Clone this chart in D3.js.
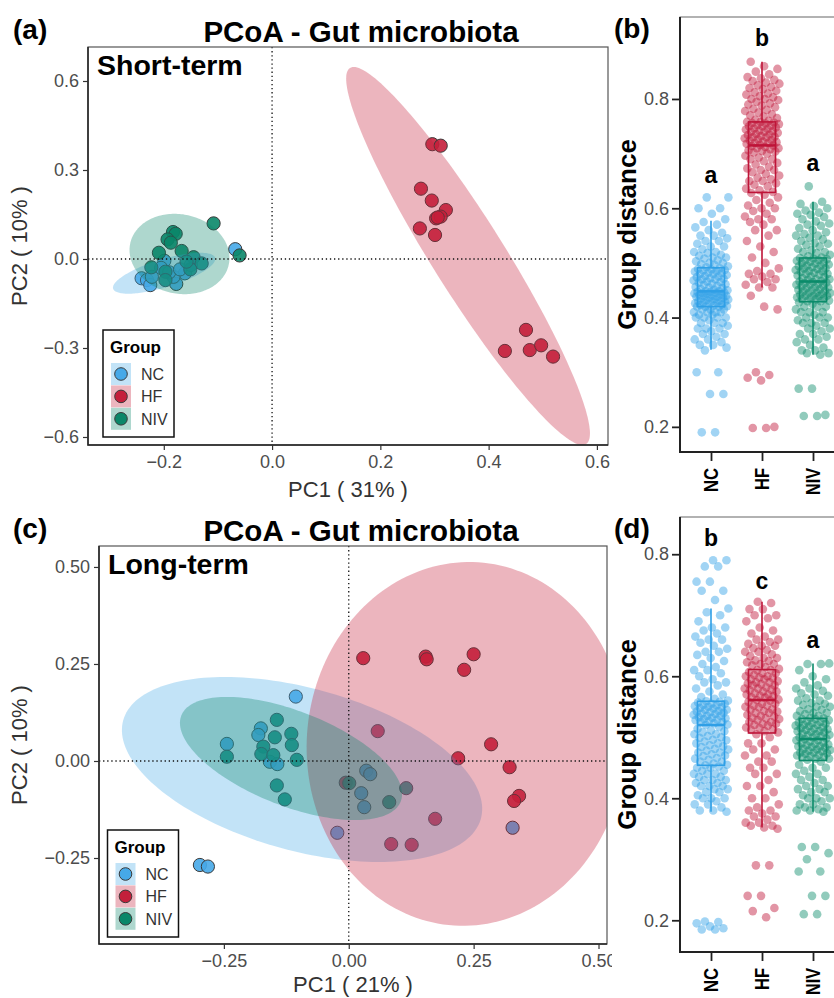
<!DOCTYPE html>
<html><head><meta charset="utf-8">
<script src="https://cdn.jsdelivr.net/npm/d3@7"></script>
<style>
body{margin:0;background:#fff}
text{font-family:"Liberation Sans",Arial,Helvetica,sans-serif}
</style></head>
<body><svg id="c" width="834" height="998"></svg>
<script>
// ---------------- DATA ----------------
const groups = ["NC","HF","NIV"];
const groupColors = ["#46A9E8","#C41F3B","#0A8769"];
const boxColors = ["#2F9FE6","#BE1438","#0B8B6A"];
const catLabelLengths = [24,22,27];

// PCoA short-term (panel a): [PC1, PC2]
const shortNC = [[-0.068,0.033],[-0.199,-0.006],[-0.241,-0.065],[-0.231,-0.071],[-0.225,-0.088],[-0.177,-0.084],[-0.161,-0.048],[-0.222,-0.060],[-0.182,-0.060],[-0.205,-0.030],[-0.190,-0.045],[-0.150,-0.020],[-0.170,-0.035]];
const shortHF = [[0.296,0.387],[0.3115,0.382],[0.275,0.237],[0.295,0.197],[0.321,0.165],[0.303,0.137],[0.3115,0.143],[0.306,0.140],[0.273,0.103],[0.301,0.081],[0.469,-0.239],[0.430,-0.310],[0.476,-0.307],[0.497,-0.291],[0.519,-0.329]];
const shortNIV = [[-0.108,0.120],[-0.183,0.091],[-0.178,0.085],[-0.193,0.066],[-0.187,0.055],[-0.209,0.021],[-0.167,0.027],[-0.145,0.006],[-0.130,-0.015],[-0.151,-0.035],[-0.223,-0.028],[-0.197,-0.043],[-0.197,-0.071],[-0.158,-0.009],[-0.060,0.012]];
// ellipses: [cx, cy, axisA_x, axisA_y, axisB_x, axisB_y] in data units
const shortEllNC = [-0.1994,-0.048,0.0942,0.0522,0.0076,-0.0452];
const shortEllHF = [0.362,0.010,0.218,-0.634,0.0563,0.0644];
const shortEllNIV = [-0.171,0.0169,0.0923,-0.0135,0,0.1348];

// PCoA long-term (panel c)
const longNC = [[-0.106,0.166],[-0.176,0.084],[-0.181,0.067],[-0.244,0.044],[-0.158,-0.002],[-0.143,-0.008],[0.035,-0.025],[0.043,-0.034],[0.025,-0.083],[0.031,-0.119],[-0.023,-0.185],[0.328,-0.172],[-0.298,-0.268],[-0.282,-0.272]];
const longHF = [[0.029,0.265],[0.154,0.269],[0.156,0.262],[0.250,0.275],[0.231,0.235],[0.058,0.077],[0.285,0.043],[0.219,0.007],[0.322,-0.016],[0.341,-0.090],[0.331,-0.103],[0.173,-0.149],[0.085,-0.214],[0.126,-0.216],[-0.006,-0.056]];
const longNIV = [[-0.144,0.106],[-0.148,0.061],[-0.115,0.070],[-0.114,0.041],[-0.244,0.011],[-0.171,0.037],[-0.175,0.018],[-0.151,0.015],[-0.104,0.003],[-0.144,-0.063],[-0.128,-0.099],[0.001,-0.057],[0.081,-0.106],[0.115,-0.070]];
const longEllNC = [-0.0935,-0.0219,0.358,-0.1268,-0.0433,-0.2018];
const longEllHF = [0.235,0.044,0.024,0.468,0.3185,-0.026];
const longEllNIV = [-0.1156,0.0064,0.2196,-0.1106,-0.0347,-0.1137];

// Group distance (panel b, short-term)
const distShortNC = [0.34,0.345,0.35,0.35,0.355,0.36,0.36,0.365,0.37,0.37,0.375,0.38,0.38,0.38,0.385,0.39,0.39,0.39,0.395,0.40,0.40,0.40,0.40,0.405,0.405,0.41,0.41,0.41,0.41,0.415,0.415,0.415,0.42,0.42,0.42,
0.421,0.422,0.423,0.424,0.425,0.426,0.427,0.428,0.429,0.43,0.43,0.431,0.432,0.433,0.434,0.435,0.436,0.437,0.438,0.438,0.439,0.44,0.44,0.441,0.442,0.443,0.444,0.445,0.445,0.446,0.447,0.447,0.448,0.448,
0.45,0.451,0.452,0.454,0.455,0.456,0.458,0.46,0.461,0.462,0.464,0.465,0.466,0.468,0.47,0.47,0.471,0.472,0.474,0.475,0.476,0.478,0.48,0.48,0.481,0.482,0.484,0.485,0.486,0.487,0.488,0.489,0.49,
0.492,0.494,0.496,0.498,0.50,0.50,0.503,0.505,0.508,0.51,0.51,0.513,0.515,0.518,0.52,0.52,0.525,0.53,0.53,0.535,0.54,0.54,0.545,0.55,0.55,0.555,0.56,0.565,0.57,0.575,0.58,0.59,0.60,0.60,0.62,0.62,
0.30,0.30,0.26,0.26,0.19,0.19];
const distShortHF = [0.76,0.762,0.765,0.768,0.77,0.772,0.775,0.778,0.78,0.782,0.785,0.788,0.79,0.792,0.795,0.798,0.80,0.80,0.803,0.805,0.808,0.81,0.812,0.815,0.818,0.82,0.822,0.825,0.828,0.83,0.833,0.835,0.838,0.84,0.845,0.85,0.855,0.86,0.868,
0.716,0.718,0.72,0.721,0.722,0.724,0.725,0.726,0.728,0.73,0.731,0.732,0.734,0.735,0.736,0.738,0.74,0.741,0.742,0.744,0.745,0.746,0.748,0.75,0.751,0.752,0.754,0.755,0.756,0.757,0.758,0.758,0.72,0.73,0.74,0.75,
0.63,0.633,0.636,0.64,0.643,0.646,0.65,0.653,0.656,0.66,0.663,0.666,0.67,0.673,0.676,0.68,0.683,0.686,0.69,0.693,0.696,0.70,0.702,0.704,0.706,0.708,0.71,0.712,0.714,0.715,0.65,0.67,0.69,0.705,0.71,
0.455,0.46,0.465,0.47,0.475,0.48,0.485,0.49,0.50,0.51,0.52,0.53,0.54,0.55,0.56,0.57,0.575,0.58,0.585,0.59,0.595,0.60,0.605,0.61,0.615,0.62,0.625,0.628,0.455,0.47,0.48,0.56,0.58,0.60,
0.44,0.42,0.415,0.30,0.295,0.29,0.285,0.20,0.198,0.198];
const distShortNIV = [0.51,0.512,0.515,0.518,0.52,0.523,0.526,0.53,0.533,0.536,0.54,0.543,0.546,0.55,0.553,0.556,0.56,0.564,0.568,0.572,0.576,0.58,0.584,0.588,0.592,0.596,0.60,0.604,0.608,0.612,0.52,0.535,0.55,0.57,0.59,
0.467,0.469,0.47,0.472,0.474,0.475,0.477,0.479,0.48,0.482,0.484,0.485,0.487,0.489,0.49,0.492,0.494,0.495,0.497,0.499,0.50,0.502,0.504,0.505,0.507,0.508,0.509,0.47,0.48,0.49,0.50,0.485,0.495,0.505,
0.43,0.431,0.433,0.434,0.436,0.437,0.439,0.44,0.442,0.443,0.445,0.446,0.448,0.449,0.451,0.452,0.454,0.455,0.457,0.458,0.46,0.461,0.463,0.464,0.466,0.44,0.45,0.46,0.435,0.445,0.455,0.465,0.43,0.44,
0.332,0.335,0.34,0.34,0.345,0.35,0.355,0.36,0.365,0.37,0.37,0.375,0.38,0.385,0.39,0.39,0.395,0.40,0.40,0.405,0.41,0.41,0.415,0.42,0.42,0.425,0.428,0.36,0.38,0.40,0.41,0.42,0.335,0.39,
0.64,0.27,0.27,0.222,0.22,0.22];
// box stats: [lower whisker, Q1, median, Q3, upper whisker]
const boxShortNC = [0.341,0.42,0.448,0.491,0.577];
const boxShortHF = [0.455,0.629,0.715,0.758,0.868];
const boxShortNIV = [0.332,0.429,0.466,0.509,0.612];
const lettersShort = ["a","b","a"];
const letterPosShort = [0.661,0.911,0.683];

// Group distance (panel d, long-term)
const distLongNC = [0.56,0.563,0.566,0.57,0.575,0.58,0.585,0.59,0.595,0.60,0.605,0.61,0.615,0.62,0.625,0.63,0.635,0.64,0.645,0.65,0.655,0.66,0.665,0.67,0.675,0.68,0.69,0.70,0.705,0.711,0.59,0.61,0.64,0.66,0.68,
0.521,0.523,0.525,0.527,0.529,0.531,0.533,0.535,0.537,0.539,0.541,0.543,0.545,0.547,0.549,0.551,0.553,0.555,0.557,0.559,0.525,0.53,0.535,0.54,0.545,0.55,0.555,0.528,0.538,0.548,0.558,0.532,0.542,0.552,
0.455,0.457,0.46,0.463,0.466,0.469,0.472,0.475,0.478,0.481,0.484,0.487,0.49,0.493,0.496,0.499,0.502,0.505,0.508,0.511,0.514,0.517,0.52,0.46,0.47,0.48,0.49,0.50,0.51,0.465,0.475,0.485,0.495,0.505,
0.378,0.38,0.385,0.39,0.395,0.40,0.40,0.405,0.41,0.415,0.42,0.42,0.425,0.43,0.43,0.435,0.44,0.44,0.445,0.45,0.452,0.454,0.39,0.41,0.43,0.445,0.38,0.40,0.42,0.44,0.45,0.435,0.415,0.425,
0.79,0.79,0.78,0.78,0.755,0.755,0.74,0.74,0.725,0.198,0.197,0.195,0.19,0.187,0.185,0.185];
const distLongHF = [0.612,0.615,0.618,0.62,0.623,0.626,0.63,0.633,0.636,0.64,0.643,0.646,0.65,0.653,0.656,0.66,0.665,0.67,0.675,0.68,0.69,0.695,0.70,0.71,0.72,0.722,0.62,0.63,0.64,0.65,0.66,0.70,0.71,0.625,
0.562,0.565,0.567,0.57,0.572,0.575,0.577,0.58,0.582,0.585,0.587,0.59,0.592,0.595,0.597,0.60,0.602,0.605,0.607,0.61,0.57,0.58,0.59,0.60,0.575,0.585,0.595,0.605,0.565,0.61,0.568,0.578,0.588,0.598,
0.508,0.51,0.513,0.516,0.519,0.522,0.525,0.528,0.531,0.534,0.537,0.54,0.543,0.546,0.549,0.552,0.555,0.558,0.561,0.515,0.525,0.535,0.545,0.555,0.52,0.53,0.54,0.55,0.56,0.512,0.532,0.552,0.542,0.522,
0.352,0.355,0.36,0.36,0.365,0.37,0.375,0.38,0.385,0.39,0.40,0.41,0.42,0.43,0.44,0.45,0.46,0.47,0.48,0.49,0.50,0.505,0.37,0.38,0.42,0.44,0.46,0.48,0.35,0.40,0.45,0.49,0.355,0.47,
0.29,0.29,0.24,0.24,0.22,0.215,0.205];
const distLongNIV = [0.532,0.535,0.538,0.54,0.543,0.546,0.55,0.553,0.556,0.56,0.564,0.568,0.572,0.576,0.58,0.585,0.59,0.595,0.60,0.61,0.62,0.621,0.54,0.55,0.56,0.57,0.58,0.62,0.535,0.545,0.555,
0.498,0.5,0.502,0.504,0.506,0.508,0.51,0.512,0.514,0.516,0.518,0.52,0.522,0.524,0.526,0.528,0.53,0.531,0.50,0.51,0.52,0.53,0.505,0.515,0.525,0.503,0.513,0.523,0.509,0.519,
0.463,0.465,0.467,0.469,0.471,0.473,0.475,0.477,0.479,0.481,0.483,0.485,0.487,0.489,0.491,0.493,0.495,0.497,0.47,0.48,0.49,0.465,0.475,0.485,0.495,0.468,0.478,0.488,0.474,0.484,
0.378,0.38,0.382,0.385,0.39,0.395,0.40,0.40,0.405,0.41,0.415,0.42,0.425,0.43,0.435,0.44,0.445,0.45,0.455,0.46,0.39,0.41,0.43,0.45,0.38,0.40,0.42,0.44,0.385,0.415,
0.32,0.32,0.31,0.30,0.28,0.28,0.24,0.24,0.21,0.21];
const boxLongNC = [0.378,0.454,0.52,0.559,0.711];
const boxLongHF = [0.352,0.507,0.561,0.611,0.722];
const boxLongNIV = [0.378,0.462,0.497,0.531,0.621];
const lettersLong = ["b","c","a"];
const letterPosLong = [0.826,0.757,0.659];

// ---------------- DRAWING ----------------
const svg = d3.select("#c");
const FONT = '"Liberation Sans",Arial,Helvetica,sans-serif';

function drawPCoA(o){
  const g = svg.append("g");
  const x = d3.scaleLinear().domain(o.xd).range([o.L,o.R]);
  const y = d3.scaleLinear().domain(o.yd).range([o.B,o.T]);
  const cid = "clip"+o.id;
  svg.append("clipPath").attr("id",cid).append("rect")
    .attr("x",o.L).attr("y",o.T).attr("width",o.R-o.L).attr("height",o.B-o.T);
  const pg = g.append("g").attr("clip-path",`url(#${cid})`);
  // points
  o.pts.forEach((pts,k)=>{
    pg.selectAll(null).data(pts).join("circle")
      .attr("cx",d=>x(d[0])).attr("cy",d=>y(d[1])).attr("r",6.6)
      .attr("fill",groupColors[k]).attr("stroke","#3a3a3a").attr("stroke-width",1)
      .attr("fill-opacity",0.9);
  });
  // ellipses
  o.ell.forEach((e,k)=>{
    const pts = d3.range(0,360,2).map(t=>{
      const a=t*Math.PI/180, c=Math.cos(a), s=Math.sin(a);
      return [x(e[0]+c*e[2]+s*e[4]), y(e[1]+c*e[3]+s*e[5])];
    });
    pg.append("path").attr("d",d3.line()(pts)+"Z")
      .attr("fill",groupColors[k]).attr("fill-opacity",0.33).attr("stroke","none");
  });
  // dotted zero lines
  g.append("line").attr("x1",x(0)).attr("x2",x(0)).attr("y1",o.T).attr("y2",o.B)
    .attr("stroke","#111").attr("stroke-width",1.3).attr("stroke-dasharray","1.3,2.8");
  g.append("line").attr("x1",o.L).attr("x2",o.R).attr("y1",y(0)).attr("y2",y(0))
    .attr("stroke","#111").attr("stroke-width",1.3).attr("stroke-dasharray","1.3,2.8");
  // border
  g.append("rect").attr("x",o.L).attr("y",o.T).attr("width",o.R-o.L).attr("height",o.B-o.T)
    .attr("fill","none").attr("stroke","#555").attr("stroke-width",1.2);
  g.append("path").attr("d",`M${o.L},${o.T}V${o.B}H${o.R}`).attr("fill","none").attr("stroke","#222").attr("stroke-width",1.5);
  // axes
  const xa = g.append("g").attr("transform",`translate(0,${o.B})`)
    .call(d3.axisBottom(x).tickValues(o.xt).tickFormat(d3.format(o.fmtX)).tickSize(5).tickPadding(5));
  const ya = g.append("g").attr("transform",`translate(${o.L},0)`)
    .call(d3.axisLeft(y).tickValues(o.yt).tickFormat(d3.format(o.fmtY)).tickSize(5).tickPadding(4));
  [xa,ya].forEach(a=>{
    a.select(".domain").remove();
    a.selectAll(".tick line").attr("stroke","#333").attr("stroke-width",1.2);
    a.selectAll(".tick text").attr("fill","#4d4d4d").style("font-size","18px").style("font-family",FONT);
  });
  // titles
  g.append("text").attr("x",(o.L+o.R)/2).attr("y",o.B+o.xlabOff).attr("text-anchor","middle")
    .style("font-size","22px").attr("fill","#333").text(o.xlab);
  g.append("text").attr("transform",`translate(27,${(o.T+o.B)/2}) rotate(-90)`).attr("text-anchor","middle")
    .style("font-size","22px").attr("fill","#333").text(o.ylab);
  g.append("text").attr("x",361).attr("y",o.T-5).attr("text-anchor","middle")
    .style("font-size","29.5px").style("font-weight","bold").text("PCoA - Gut microbiota");
  g.append("text").attr("x",13).attr("y",o.T-8).style("font-size","28px").style("font-weight","bold").text(o.tag);
  g.append("text").attr("x",o.L+9).attr("y",o.T+28).style("font-size","28.5px").style("font-weight","bold").text(o.sub);
  // legend
  const lg = g.append("g").attr("transform",`translate(${o.legX},${o.legY})`);
  lg.append("rect").attr("x",0).attr("y",0).attr("width",71).attr("height",107)
    .attr("fill","#fff").attr("stroke","#111").attr("stroke-width",1.5);
  lg.append("text").attr("x",7).attr("y",23).style("font-size","17px").style("font-weight","bold").text("Group");
  groups.forEach((gr,k)=>{
    const cy = 44 + k*22.4;
    lg.append("rect").attr("x",8).attr("y",cy-11).attr("width",20).attr("height",22)
      .attr("fill",groupColors[k]).attr("fill-opacity",0.33);
    lg.append("circle").attr("cx",18).attr("cy",cy).attr("r",6.3)
      .attr("fill",groupColors[k]).attr("stroke","#3a3a3a").attr("stroke-width",1);
    lg.append("text").attr("x",38).attr("y",cy).attr("dy","0.36em").style("font-size","16px").attr("fill","#333").text(gr);
  });
}

function drawBox(o){
  const g = svg.append("g");
  const x = d3.scalePoint().domain(groups).range([o.x0,o.x2]);
  const y = d3.scaleLinear().domain(o.yd).range([o.B,o.T]);
  // top/right border
  g.append("rect").attr("x",o.L).attr("y",o.T).attr("width",200).attr("height",o.B-o.T)
    .attr("fill","#fff").attr("stroke","#666").attr("stroke-width",1);
  // jittered points
  o.vals.forEach((vals,k)=>{
    const sorted = vals.slice().sort(d3.ascending);
    g.selectAll(null).data(sorted).join("circle")
      .attr("cx",(d,i)=>x(groups[k]) + ((((i+1)*0.6180339887)%1)-0.5)*2*17.5)
      .attr("cy",d=>y(d)).attr("r",4.3)
      .attr("fill",boxColors[k]).attr("fill-opacity",0.45);
  });
  // boxes
  o.box.forEach((b,k)=>{
    const cx = x(groups[k]), w = 27, c = boxColors[k];
    g.append("line").attr("x1",cx).attr("x2",cx).attr("y1",y(b[0])).attr("y2",y(b[1])).attr("stroke",c).attr("stroke-width",1.6);
    g.append("line").attr("x1",cx).attr("x2",cx).attr("y1",y(b[3])).attr("y2",y(b[4])).attr("stroke",c).attr("stroke-width",1.6);
    g.append("rect").attr("x",cx-w/2).attr("y",y(b[3])).attr("width",w).attr("height",y(b[1])-y(b[3]))
      .attr("fill","none").attr("stroke",c).attr("stroke-width",1.6);
    g.append("line").attr("x1",cx-w/2).attr("x2",cx+w/2).attr("y1",y(b[2])).attr("y2",y(b[2])).attr("stroke",c).attr("stroke-width",2.6);
  });
  // letters
  o.letters.forEach((t,k)=>{
    g.append("text").attr("x",x(groups[k])).attr("y",y(o.letterPos[k])).attr("dy","0.35em")
      .attr("text-anchor","middle").style("font-size","23px").style("font-weight","bold").text(t);
  });
  // axes
  const ya = g.append("g").attr("transform",`translate(${o.L},0)`)
    .call(d3.axisLeft(y).tickValues([0.2,0.4,0.6,0.8]).tickFormat(d3.format(".1f")).tickSize(8).tickPadding(3));
  const xa = g.append("g").attr("transform",`translate(0,${o.B})`)
    .call(d3.axisBottom(x).tickSize(9).tickFormat(""));
  [xa,ya].forEach(a=>{
    a.select(".domain").remove();
    a.selectAll(".tick line").attr("stroke","#222").attr("stroke-width",1.8);
    a.selectAll(".tick text").attr("fill","#4d4d4d").style("font-size","18px").style("font-family",FONT);
  });
  g.append("path").attr("d",`M${o.L},${o.T}V${o.B}H${o.L+200}`).attr("fill","none").attr("stroke","#222").attr("stroke-width",2);
  groups.forEach((gr,k)=>{
    g.append("text").attr("transform",`translate(${x(gr)},${o.B+16}) rotate(-90)`).attr("text-anchor","end")
      .attr("dy","0.36em").attr("textLength",catLabelLengths[k]).attr("lengthAdjust","spacingAndGlyphs")
      .style("font-size","20px").style("font-weight","bold").text(gr);
  });
  g.append("text").attr("transform",`translate(627,${(o.T+o.B)/2}) rotate(-90)`).attr("text-anchor","middle")
    .attr("dy","0.36em").style("font-size","26px").style("font-weight","bold").text("Group distance");
  g.append("text").attr("x",614).attr("y",o.T+21).style("font-size","28px").style("font-weight","bold").text(o.tag);
}

drawPCoA({id:"a", L:88, R:608, T:47, B:445, xd:[-0.340,0.6205], yd:[-0.627,0.7146],
  xt:[-0.2,0,0.2,0.4,0.6], yt:[-0.6,-0.3,0,0.3,0.6], fmtX:".1f", fmtY:".1f",
  pts:[shortNC,shortHF,shortNIV], ell:[shortEllNC,shortEllHF,shortEllNIV], xlabOff:52,
  xlab:"PC1 ( 31% )", ylab:"PC2 ( 10% )", tag:"(a)", sub:"Short-term", legX:103, legY:330});

drawPCoA({id:"c", L:99, R:607, T:546, B:944, xd:[-0.500,0.517], yd:[-0.4716,0.554],
  xt:[-0.25,0,0.25,0.5], yt:[-0.25,0,0.25,0.5], fmtX:".2f", fmtY:".2f",
  pts:[longNC,longHF,longNIV], ell:[longEllNC,longEllHF,longEllNIV], xlabOff:48,
  xlab:"PC1 ( 21% )", ylab:"PC2 ( 10% )", tag:"(c)", sub:"Long-term", legX:107.5, legY:830});

// white cover right of panel (c) (label cut like the reference)
svg.append("rect").attr("x",612).attr("y",500).attr("width",222).attr("height",498).attr("fill","#fff");

drawBox({L:680, T:17, B:452, x0:711, x2:813, yd:[0.154,0.95],
  vals:[distShortNC,distShortHF,distShortNIV], box:[boxShortNC,boxShortHF,boxShortNIV],
  letters:lettersShort, letterPos:letterPosShort, tag:"(b)"});

drawBox({L:680, T:517, B:952, x0:711, x2:813, yd:[0.148,0.861],
  vals:[distLongNC,distLongHF,distLongNIV], box:[boxLongNC,boxLongHF,boxLongNIV],
  letters:lettersLong, letterPos:letterPosLong, tag:"(d)"});
</script></body></html>
